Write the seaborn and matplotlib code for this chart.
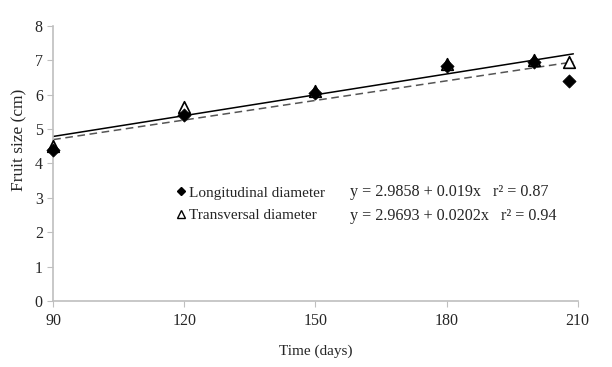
import matplotlib
matplotlib.use("Agg")
import matplotlib.pyplot as plt
import seaborn as sns
import numpy as np
import pandas as pd
from matplotlib.lines import Line2D

# measured fruit size (cm) by time (days)
days = [90, 120, 150, 180, 200, 208]
longitudinal = [4.4, 5.4, 6.05, 6.85, 6.95, 6.4]
transversal = [4.5, 5.65, 6.1, 6.9, 7.0, 6.95]

# fitted regressions
long_fit = (2.9858, 0.019)
trans_fit = (2.9693, 0.0202)
fit_range = [90, 209]

sns.set_style("white")
plt.rcParams["font.family"] = ["Liberation Serif", "DejaVu Serif"]

fig = plt.figure(figsize=(6.12, 3.67), dpi=100)
ax = fig.add_axes([0.087, 0.18, 0.857, 0.749])

xs = np.array(fit_range, dtype=float)
fits = pd.DataFrame({
    "x": np.concatenate([xs, xs]),
    "y": np.concatenate([long_fit[0] + long_fit[1] * xs,
                         trans_fit[0] + trans_fit[1] * xs]),
    "series": ["long"] * 2 + ["trans"] * 2,
})
sns.lineplot(data=fits[fits.series == "trans"], x="x", y="y", ax=ax,
             color="black", lw=1.1, legend=False)
sns.lineplot(data=fits[fits.series == "long"], x="x", y="y", ax=ax,
             color="#555555", lw=1.1, ls=(0, (5, 3)), legend=False)

pts = pd.DataFrame({"days": days, "long": longitudinal, "trans": transversal})
sns.scatterplot(data=pts, x="days", y="trans", ax=ax, marker="^", s=70,
                facecolor="white", edgecolor="black", linewidth=1.2,
                zorder=3, clip_on=False)
sns.scatterplot(data=pts, x="days", y="long", ax=ax, marker="D", s=45,
                color="black", edgecolor="black", zorder=4, clip_on=False)

ax.set_xlim(90, 210)
ax.set_ylim(0, 8)
ax.set_xticks([90, 120, 150, 180, 210])
ax.set_yticks(range(0, 9))
ax.set_xlabel("Time (days)", fontsize=11, labelpad=11)
ax.set_ylabel("Fruit size (cm)", fontsize=12.5)
ax.yaxis.set_label_coords(-0.05, 0.585)
ax.tick_params(axis="both", labelsize=11.5, length=4, color="#bfbfbf",
               direction="out", bottom=True, left=True)
ax.tick_params(axis="x", pad=5)
for s in ["top", "right"]:
    ax.spines[s].set_visible(False)
for s in ["left", "bottom"]:
    ax.spines[s].set_color("#bfbfbf")
    ax.spines[s].set_linewidth(1.2)

handles = [
    Line2D([], [], marker="D", ls="", color="black", markersize=4.5),
    Line2D([], [], marker="^", ls="", markerfacecolor="white",
           markeredgecolor="black", markersize=5.5),
]
ax.legend(handles, ["Longitudinal diameter", "Transversal diameter"],
          loc="center left", bbox_to_anchor=(0.22, 0.352), frameon=False,
          fontsize=11, handletextpad=0.15, handlelength=0.8,
          labelspacing=0.6, borderaxespad=0)
ax.text(0.566, 0.396, "y = 2.9858 + 0.019x   r² = 0.87", transform=ax.transAxes,
        fontsize=11.6, va="center")
ax.text(0.566, 0.309, "y = 2.9693 + 0.0202x   r² = 0.94", transform=ax.transAxes,
        fontsize=11.6, va="center")

fig.savefig("out.png", dpi=100)
